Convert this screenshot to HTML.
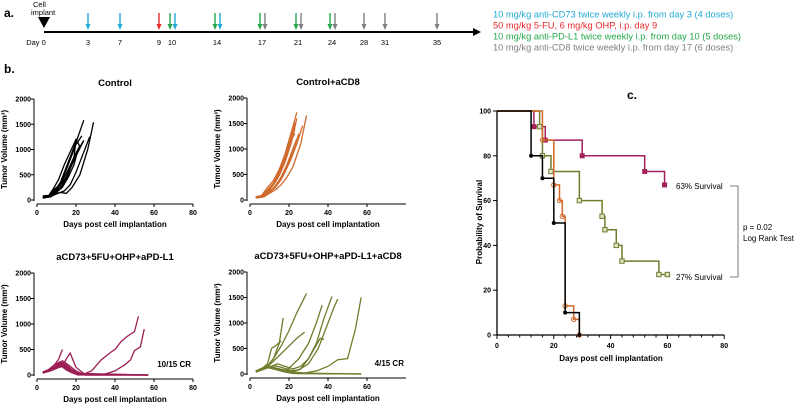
<!DOCTYPE html>
<html><head><meta charset="utf-8"><style>
body{margin:0;background:#fff;}
svg{display:block;font-family:"Liberation Sans",Arial,sans-serif;}
</style></head><body>
<svg id="fig" width="800" height="406" viewBox="0 0 800 406"></svg>
<script>
const NS='http://www.w3.org/2000/svg';
const svg=document.getElementById('fig');
function mk(tag,attrs,parent,text){const e=document.createElementNS(NS,tag);for(const k in attrs)e.setAttribute(k,attrs[k]);if(text!==undefined)e.textContent=text;(parent||svg).appendChild(e);return e;}

// ---------- Panel a data ----------
const timelineDays=[0,3,7,9,10,14,17,21,24,28,31,35];
const timelineBreaks=[0,3,7,9,10,14,17,21,24,28,31,35];
const timelineScreen=[44,88,120,159,172,217,262,298,332,364,385,437];
const doseDays=[3,7,9,10,10,14,14,17,17,21,21,24,24,28,31,35];
const doseKinds=['c','c','r','g','c','g','c','g','k','g','k','g','k','k','k','k'];
const legendLines=['10 mg/kg anti-CD73 twice weekly i.p. from day 3 (4 doses)','50 mg/kg 5-FU, 6 mg/kg OHP, i.p. day 9','10 mg/kg anti-PD-L1 twice weekly i.p. from day 10 (5 doses)','10 mg/kg anti-CD8 twice weekly i.p. from day 17 (6 doses)'];
const arrowColors={c:'#23a9d6',r:'#e8282c',g:'#25a84b',k:'#808080'};
const legendColors=['#23a9d6','#e8282c','#25a84b','#808080'];
function tx(d){for(let i=0;i<timelineBreaks.length-1;i++){if(d<=timelineBreaks[i+1]){const t=(d-timelineBreaks[i])/(timelineBreaks[i+1]-timelineBreaks[i]);return timelineScreen[i]+t*(timelineScreen[i+1]-timelineScreen[i]);}}return timelineScreen[timelineScreen.length-1];}

// ---------- Panel b data ----------
const ctrlDays=[[3,6,9,12,15,18,21,24],[3,6,9,12,15,18,20,23],[3,7,10,13,16,19,22,24],[3,6,8,11,14,17,20,22],[3,7,10,13,16,19,21],[3,6,9,12,15,18,22,26,29],[3,7,10,14,17,20,23,25,27],[3,6,9,12,15,18,21,24],[3,7,10,13,16,19,22],[3,6,9,13,16,19,20]];
const ctrlVals=[[60,80,180,350,650,950,1250,1580],[50,70,150,320,600,900,1100,1270],[40,70,200,380,600,850,1050,1180],[80,90,200,400,700,950,1200,1060],[50,60,150,250,450,700,1000],[40,60,120,150,130,250,500,1000,1540],[50,70,120,180,300,550,850,1050,1250],[40,60,220,300,450,700,950,1180],[60,80,180,300,550,850,1080],[40,60,150,280,500,850,1200]];
const cd8Days=[[3,6,9,12,15,18,21,24],[3,6,9,12,15,18,21,23],[3,7,10,13,16,19,22,24],[3,6,9,12,15,18,21,23],[3,7,10,13,16,19,22,26,29],[3,6,9,12,15,18,21,24,27],[3,6,9,12,15,18,21,22],[3,7,10,13,16,19,22,25],[3,6,9,12,15,18,20,23],[3,7,10,13,16,19,22,24]];
const cd8Vals=[[60,80,200,330,550,900,1300,1720],[50,70,180,300,500,800,1200,1520],[40,80,200,350,600,900,1250,1600],[50,70,170,300,480,750,1100,1400],[40,60,130,200,300,450,650,1100,1660],[50,70,150,220,350,550,800,1100,1460],[60,90,250,380,600,900,1300,1420],[40,70,150,250,400,650,950,1300],[50,80,180,300,500,850,1100,1300],[40,70,160,280,450,700,1000,1200]];
const pdDays=[[3,6,9,12,15,18,22,25,57],[3,6,9,11,13],[3,7,10,14,17,20,24,57],[3,6,9,12,15,18,21,24,28,33,38,40,43,46,50,52],[3,6,9,12,15,18,22,26,30,35,40,45,48,50,53,55,57],[3,6,9,12,15,18,21,57],[3,7,10,13,16,19,22,25,57],[3,6,9,12,15,19,23,57],[3,7,10,13,16,20,24,57],[3,6,9,12,15,18,21,57]];
const pdVals=[[40,80,150,200,120,60,10,0,0],[50,90,200,300,500],[40,90,160,250,430,150,30,0],[60,100,180,220,160,100,50,20,80,300,450,500,650,750,850,1150],[40,80,120,180,150,80,30,10,10,20,80,200,300,480,550,900],[50,110,200,260,200,100,20,0],[40,80,130,170,130,70,20,0,0],[60,100,180,240,180,60,10,0],[40,90,160,280,200,80,10,0],[50,90,140,190,100,40,0,0]];
const oliDays=[[3,6,9,12,15,17],[3,6,9,12,16,20,24,29],[3,6,9,12,15,18,21,25,30,34,37],[3,7,10,14,18,22,26,30,34,38,42],[3,6,9,12,16,20,25,30,35,39,43,45],[3,6,9,13,17,22,28,34,40,45,50,54,57],[3,6,9,12,16,20,24,28],[3,6,9,11,13,16],[3,7,10,14,18,22,26,30,33,36,38],[3,6,9,12,16,20,24,57],[3,7,10,14,18,22,57],[3,6,9,13,17,21,25,57]];
const oliVals=[[50,100,150,300,600,1100],[60,110,160,300,550,850,1200,1580],[40,90,140,120,80,60,150,300,600,1000,1350],[50,100,150,100,70,50,100,300,600,1100,1520],[40,80,130,120,90,60,80,200,500,900,1300,1470],[50,100,140,120,80,40,20,60,150,280,300,870,1500],[60,110,150,250,400,550,700,820],[50,100,200,500,550,650],[40,90,140,200,150,100,150,300,500,700,680],[50,100,130,100,60,30,10,0],[60,110,120,80,40,10,0],[40,90,140,160,120,70,20,0]];

// ---------- Panel c data ----------
const kmCtrlT=[0,12,16,20,24,29];const kmCtrlS=[100,80,70,50,10,0];
const kmCd8T=[0,16,20,22,23,24,27,29];const kmCd8S=[100,87,67,60,53,13,7,0];
const kmPdT=[0,13,17,30,52,59];const kmPdS=[100,93,87,80,73,67];
const kmOliT=[0,15,16,19,29,37,38,42,44,57,60];const kmOliS=[100,93,80,73,60,53,47,40,33,27,27];

// ---------- Panel a ----------
mk('text',{x:4,y:17,'font-size':12,'font-weight':'bold',},svg,'a.');
mk('text',{x:33,y:7,'font-size':7.5,},svg,'Cell');
mk('text',{x:31,y:15,'font-size':7.5,},svg,'implant');
mk('polygon',{points:'38,17 50,17 44,28',fill:'#000',});
mk('line',{x1:44,y1:32,x2:476,y2:32,stroke:'#000','stroke-width':2,});
mk('polygon',{points:'473,28 481,32 473,36',fill:'#000',});
timelineDays.forEach((d,i)=>{const t=mk('text',{x:tx(d),y:45,'font-size':7.5,'text-anchor':'middle'},svg,i===0?'Day 0':String(d));


if(i===0)t.setAttribute('x',36);});
doseDays.forEach((d,i)=>{let x=tx(d);const k=doseKinds[i];
if(i>0&&doseDays[i-1]===d)x+=3;else if(i<doseDays.length-1&&doseDays[i+1]===d)x-=2;
const g=mk('g',{});


mk('line',{x1:x,y1:13,x2:x,y2:26,stroke:arrowColors[k],'stroke-width':1.4},g);
mk('polygon',{points:`${x-2.5},24 ${x+2.5},24 ${x},30`,fill:arrowColors[k]},g);});
legendLines.forEach((s,i)=>{const t=mk('text',{x:493,y:17.5+i*11,'font-size':9.3,fill:legendColors[i]},svg,s);

});

// ---------- Panel b ----------
mk('text',{x:4,y:73,'font-size':12,'font-weight':'bold',},svg,'b.');
function growth(name,title,ox,oy,top,days,vals,color,cr,maxTick){
const g=mk('g',{});


const xs=d=>ox+d*1.95, ys=v=>oy-(v/2000)*(oy-top);
const tt=mk('text',{x:ox+78,y:top-13,'font-size':9.5,'font-weight':'bold','text-anchor':'middle'},g,title);


mk('line',{x1:ox-3,y1:top,x2:ox-3,y2:oy+1,stroke:'#000','stroke-width':1},g);
mk('line',{x1:ox,y1:oy+4,x2:ox+156,y2:oy+4,stroke:'#000','stroke-width':1},g);
[0,500,1000,1500,2000].forEach(v=>{mk('line',{x1:ox-6,y1:ys(v),x2:ox-3,y2:ys(v),stroke:'#000'},g);
const t=mk('text',{x:ox-6,y:ys(v)+2.5,'font-size':7,'font-weight':'bold','text-anchor':'end'},g,String(v));

});
[0,20,40,60,80].forEach(d=>{if(d>maxTick)return;mk('line',{x1:xs(d),y1:oy+4,x2:xs(d),y2:oy+7,stroke:'#000'},g);
const t=mk('text',{x:xs(d),y:oy+15,'font-size':7,'font-weight':'bold','text-anchor':'middle'},g,String(d));

});
const xt=mk('text',{x:ox+78,y:oy+27,'font-size':8,'font-weight':'bold','text-anchor':'middle'},g,'Days post cell implantation');


const yt=mk('text',{x:0,y:0,'font-size':8,'font-weight':'bold','text-anchor':'middle',transform:`translate(${ox-30},${(oy+top)/2}) rotate(-90)`},g,'Tumor Volume (mm³)');


days.forEach((ds,i)=>{const pts=ds.map((d,j)=>xs(d)+','+ys(vals[i][j])).join(' ');
const p=mk('polyline',{points:pts,fill:'none',stroke:color,'stroke-width':1.3},g);

});
if(cr){const c=mk('text',{x:ox+154,y:oy-8,'font-size':8,'font-weight':'bold','text-anchor':'end'},g,cr);

}
}
growth('control-chart','Control',37,200,99,ctrlDays,ctrlVals,'#000',null,80);
growth('control-acd8-chart','Control+aCD8',250,200,98,cd8Days,cd8Vals,'#d06a2c',null,60);
growth('apdl1-chart','aCD73+5FU+OHP+aPD-L1',37,375,273,pdDays,pdVals,'#9c1e55','10/15 CR',80);
growth('apdl1-acd8-chart','aCD73+5FU+OHP+aPD-L1+aCD8',250,374,272,oliDays,oliVals,'#6f7d2c','4/15 CR',60);

// ---------- Panel c ----------
mk('text',{x:627,y:99,'font-size':12,'font-weight':'bold',},svg,'c.');
const cg=mk('g',{});


const kx=t=>497+t*2.84, ky=s=>335-s*2.24;
mk('line',{x1:497,y1:ky(100),x2:497,y2:335,stroke:'#000','stroke-width':1.3},cg);
mk('line',{x1:497,y1:335,x2:kx(80),y2:335,stroke:'#000','stroke-width':1.3},cg);
[0,20,40,60,80,100].forEach(s=>{mk('line',{x1:493,y1:ky(s),x2:497,y2:ky(s),stroke:'#000'},cg);
const t=mk('text',{x:491,y:ky(s)+2.5,'font-size':7,'font-weight':'bold','text-anchor':'end'},cg,String(s));

});
for(let d=0;d<=80;d+=4){mk('line',{x1:kx(d),y1:335,x2:kx(d),y2:d%20===0?339:337.5,stroke:'#000'},cg);}
[0,20,40,60,80].forEach(d=>{const t=mk('text',{x:kx(d),y:348,'font-size':7,'font-weight':'bold','text-anchor':'middle'},cg,String(d));

});
const kxt=mk('text',{x:611,y:361,'font-size':8,'font-weight':'bold','text-anchor':'middle'},cg,'Days post cell implantation');


const kyt=mk('text',{x:0,y:0,'font-size':8,'font-weight':'bold','text-anchor':'middle',transform:'translate(482,222) rotate(-90)'},cg,'Probability of Survival');


function km(name,T,S,color,marker){
let d=`M${kx(T[0])},${ky(S[0])}`;
for(let i=1;i<T.length;i++){d+=` H${kx(T[i])} V${ky(S[i])}`;}
const p=mk('path',{d:d,fill:'none',stroke:color,'stroke-width':1.5},cg);


for(let i=1;i<T.length;i++){const x=kx(T[i]),y=ky(S[i]);let m;
if(marker==='dot')m=mk('circle',{cx:x,cy:y,r:2,fill:color},cg);
else if(marker==='circle')m=mk('circle',{cx:x,cy:y,r:2.2,fill:'none',stroke:color,'stroke-width':1},cg);
else if(marker==='square')m=mk('rect',{x:x-2.5,y:y-2.5,width:5,height:5,fill:color},cg);
else m=mk('rect',{x:x-2.2,y:y-2.2,width:4.4,height:4.4,fill:'#dfe3c8',stroke:color,'stroke-width':1},cg);

}
}
km('survival-apdl1',kmPdT,kmPdS,'#a3205a','square');
km('survival-apdl1-acd8',kmOliT,kmOliS,'#6f7d2c','opensquare');
km('survival-acd8',kmCd8T,kmCd8S,'#d06a2c','circle');
km('survival-control',kmCtrlT,kmCtrlS,'#000','dot');
const l1=mk('text',{x:676,y:189,'font-size':8},cg,'63% Survival');


const l2=mk('text',{x:676,y:280,'font-size':8},cg,'27% Survival');


mk('path',{d:'M730,186 H738 V277 H730',fill:'none',stroke:'#555','stroke-width':0.8,},cg);
const p1=mk('text',{x:743,y:230,'font-size':8},cg,'p = 0.02');


const p2=mk('text',{x:743,y:241,'font-size':8},cg,'Log Rank Test');


</script>
</body></html>
